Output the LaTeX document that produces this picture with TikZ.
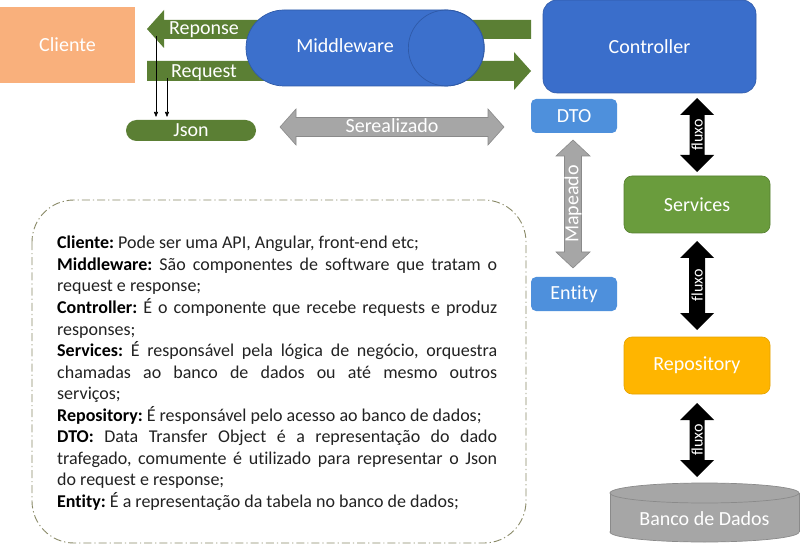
\documentclass[tikz,border=0pt]{standalone}
\usepackage{fontspec}
\setmainfont{Carlito}[Ligatures=NoCommon]
\usetikzlibrary{arrows.meta}
\definecolor{cliente}{HTML}{F9B07C}
\definecolor{grn}{HTML}{5B7F34}
\definecolor{mwblue}{HTML}{3C70CC}
\definecolor{mwline}{HTML}{2F5AA8}
\definecolor{ctrl}{HTML}{3A6ECB}
\definecolor{dto}{HTML}{4E90DC}
\definecolor{svc}{HTML}{6A9C3D}
\definecolor{svcline}{HTML}{557F30}
\definecolor{repo}{HTML}{FFB500}
\definecolor{repoline}{HTML}{E3A200}
\definecolor{gry}{HTML}{A6A6A6}
\definecolor{gryline}{HTML}{8A8A8A}
\definecolor{dashc}{HTML}{8A8A68}
\definecolor{txt}{HTML}{222222}
% vertical double arrow: x, ytop, ybottom, half shaft, half head, head length, style
\newcommand\VDArrow[7]{%
  \path[#7] (#1,#2) -- (#1+#5,#2+#6) -- (#1+#4,#2+#6) -- (#1+#4,#3-#6) -- (#1+#5,#3-#6) -- (#1,#3)
    -- (#1-#5,#3-#6) -- (#1-#4,#3-#6) -- (#1-#4,#2+#6) -- (#1-#5,#2+#6) -- cycle;}
% horizontal double arrow: xleft, xright, y, half shaft, half head, head length, style
\newcommand\HDArrow[7]{%
  \path[#7] (#1,#3) -- (#1+#6,#3-#5) -- (#1+#6,#3-#4) -- (#2-#6,#3-#4) -- (#2-#6,#3-#5) -- (#2,#3)
    -- (#2-#6,#3+#5) -- (#2-#6,#3+#4) -- (#1+#6,#3+#4) -- (#1+#6,#3+#5) -- cycle;}
\newcommand\jline[1]{\makebox[\linewidth][s]{#1}}
\newcommand\lab[1]{\textbf{\color{black}#1}}
\begin{document}
\begin{tikzpicture}[x=1bp,y=-1bp,
  lbl/.style={text=white, font=\fontsize{20bp}{24bp}\selectfont, inner sep=0pt},
  nbox/.style={rectangle, lbl, rounded corners=8bp},
  small/.style={lbl, font=\fontsize{16bp}{18bp}\selectfont},
  thinarrow/.style={line width=0.6bp, -{Triangle[width=4bp,length=5bp]}},
  flux/.style={fill=black},
  grayarrow/.style={fill=gry, draw=gryline, line width=0.6bp}]
\useasboundingbox (0,0) rectangle (800,549);
\fill[white] (0,0) rectangle (800,549);

% description box
\draw[dashc, line width=0.9bp, dash pattern=on 8bp off 3bp on 1.2bp off 3bp, rounded corners=42bp]
  (32,200) rectangle (526,543);
\node[anchor=base west, inner sep=0pt, text=txt, font=\fontsize{18bp}{21.5bp}\selectfont] (desc) at (57,249) {\parbox[t]{440bp}{%
\frenchspacing
\leavevmode\lab{Cliente:} Pode ser uma API, Angular, front-end etc;\\
\jline{\lab{Middleware:} São componentes de software que tratam o}\\
request e response;\\
\jline{\lab{Controller:} É o componente que recebe requests e produz}\\
responses;\\
\jline{\lab{Services:} É responsável pela lógica de negócio, orquestra}\\
\jline{chamadas ao banco de dados ou até mesmo outros}\\
serviços;\\
\lab{Repository:} É responsável pelo acesso ao banco de dados;\\
\jline{\lab{DTO:} Data Transfer Object é a representação do dado}\\
\jline{trafegado, comumente é utilizado para representar o Json}\\
do request e response;\\
\lab{Entity:} É a representação da tabela no banco de dados;}};

% Cliente
\node[nbox, rounded corners=0pt, fill=cliente, minimum width=135bp, minimum height=76bp] (cli) at (67.5,45) {Cliente};

% green arrows
\path[fill=grn] (147,29) -- (164,10) -- (164,20) -- (531,20) -- (531,39) -- (164,39) -- (164,48) -- cycle;
\path[fill=grn] (147,61) -- (514,61) -- (514,52) -- (531,71) -- (514,90) -- (514,81) -- (147,81) -- cycle;
\node[lbl] (rsp) at (204,30) {Reponse};
\node[lbl] (rqt) at (204,73) {Request};

% Middleware
\node[nbox, rounded corners=38bp, fill=mwblue, draw=mwline, line width=0.7bp,
  minimum width=238bp, minimum height=76bp] (mw) at (365,48) {};
\draw[mwline, line width=0.7bp] ([xshift=-38bp]mw.east) circle[radius=38bp];
\node[lbl] (mwt) at (345,46) {Middleware};

% Json
\coordinate (a1) at (156,36); \coordinate (b1) at (156,117);
\coordinate (a2) at (167,78); \coordinate (b2) at (167,117);
\draw[thinarrow] (a1) -- (b1);
\draw[thinarrow] (a2) -- (b2);
\node[nbox, rounded corners=10.5bp, fill=grn, minimum width=130bp, minimum height=21bp] (json) at (191,130.5) {Json};

% Serealizado
\HDArrow{280}{504}{127}{9.5}{18}{16}{grayarrow}
\node[lbl] (ser) at (392,126) {Serealizado};

% Controller, DTO, Entity
\node[nbox, rounded corners=14bp, fill=ctrl, draw=mwline, line width=0.6bp,
  minimum width=213bp, minimum height=93bp] (ctrl) at (649.5,46.5) {Controller};
\node[nbox, rounded corners=5bp, fill=dto, minimum width=86bp, minimum height=34bp] (dto) at (574,116) {DTO};
\node[nbox, rounded corners=5bp, fill=dto, minimum width=86bp, minimum height=34bp] (ent) at (574,294) {Entity};
\VDArrow{573}{140}{268}{8.5}{17}{16}{grayarrow}
\node[lbl, rotate=90] (map) at (573,204) {Mapeado};

% fluxo arrows
\VDArrow{697}{98}{172}{7.5}{17}{17}{flux}
\node[small, rotate=90] (f1) at (697,135) {fluxo};
\VDArrow{697}{241}{330}{8}{17}{17}{flux}
\node[small, rotate=90] (f2) at (697,285.5) {fluxo};
\VDArrow{697}{403}{477}{7.5}{17}{17}{flux}
\node[small, rotate=90] (f3) at (697,440) {fluxo};

% Services, Repository
\node[nbox, rounded corners=8bp, fill=svc, draw=svcline, line width=0.6bp,
  minimum width=146bp, minimum height=57bp] (svc) at (697,204.5) {Services};
\node[nbox, rounded corners=8bp, fill=repo, draw=repoline, line width=0.6bp,
  minimum width=146bp, minimum height=57bp] (repo) at (697,365.5) {Repository};

% Banco de Dados cylinder
\filldraw[fill=gry, draw=gryline, line width=0.7bp] (704.5,532) ellipse[x radius=94.5bp, y radius=10bp];
\fill[gry] (610,493) rectangle (799,532);
\draw[gryline, line width=0.7bp] (610,493) -- (610,532) (799,493) -- (799,532);
\filldraw[fill=gry, draw=gryline, line width=0.7bp] (704.5,493) ellipse[x radius=94.5bp, y radius=10bp];
\node[lbl] (db) at (704.5,519) {Banco de Dados};
\end{tikzpicture}
\end{document}
